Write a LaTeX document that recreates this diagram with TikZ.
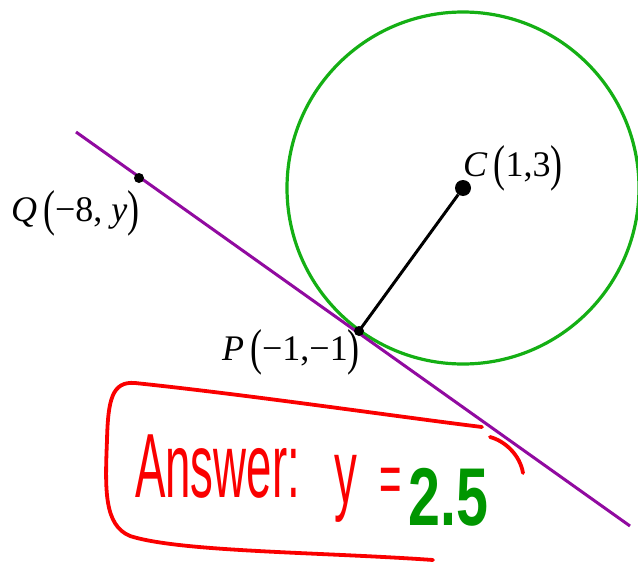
\documentclass[tikz,border=0pt]{standalone}
\usepackage{fontspec}
\setmainfont{Liberation Serif}
\newfontfamily\handfont{Liberation Sans}
\usepackage{graphicx}
\definecolor{circgreen}{RGB}{20,175,20}
\definecolor{linepurple}{RGB}{145,10,160}
\definecolor{penred}{RGB}{250,0,0}
\definecolor{pengreen}{RGB}{0,150,0}
\newcommand{\lp}{\raisebox{-0.12em}{\scalebox{1}[1.4]{(}}}
\newcommand{\rp}{\raisebox{-0.12em}{\scalebox{1}[1.4]{)}}}
\tikzset{
  lbl/.style={anchor=base west, inner sep=0pt, font=\fontsize{36}{36}\selectfont},
  dotnode/.style={circle, fill=black, inner sep=0pt, minimum size=10pt},
  bigdot/.style={circle, fill=black, inner sep=0pt, minimum size=16pt},
  pen/.style={penred, line width=3.8pt, line cap=round, line join=round},
  hand/.style={anchor=base west, inner sep=0pt, text=penred}
}
\begin{document}
\begin{tikzpicture}[x=1pt,y=-1pt]
\useasboundingbox (0,0) rectangle (638,562);
% circle
\node[circle, draw=circgreen, line width=3.2pt, minimum size=352pt, inner sep=0pt] (circ) at (463,188) {};
% tangent line
\coordinate (L1) at (76,132);
\coordinate (L2) at (630,526);
\draw[linepurple, line width=3pt] (L1) -- (L2);
% points
\node[bigdot] (C) at (463,188) {};
\node[dotnode] (P) at (359,331) {};
\node[dotnode] (Q) at (139,178) {};
\draw[black, line width=3pt] (C) -- (P.center);
% labels
\node[lbl] (Clbl) at (463,176) {\textit{C}\,\lp1,3\rp};
\node[lbl] (Qlbl) at (11,221) {\textit{Q}\,\lp−8, \textit{y}\rp};
\node[lbl] (Plbl) at (222,360) {\textit{P}\,\lp−1,−1\rp};
% handwritten box
\draw[pen] (482,427) .. controls (400,417) and (250,395) .. (135,383)
  .. controls (112,381) and (108,400) .. (107,440)
  .. controls (105,490) and (104,525) .. (130,536)
  .. controls (180,552) and (320,552) .. (433,560);
\draw[pen] (490,437) .. controls (505,441) and (520,455) .. (523,473);
% handwritten answer
\node[hand] (ans) at (135,497) {\scalebox{0.95}[1.9]{\handfont\fontsize{48}{48}\selectfont Answer:}};
\node[hand] (yy) at (334,503) {\scalebox{0.95}[1.9]{\handfont\fontsize{48}{48}\selectfont y}};
\node[hand] (eq) at (379,503) {\scalebox{0.8}[1.5]{\handfont\fontsize{48}{48}\selectfont =}};
\node[hand, text=pengreen] (val) at (408,525) {\scalebox{0.7}[1]{\handfont\bfseries\fontsize{82}{82}\selectfont 2.5}};
\end{tikzpicture}
\end{document}
